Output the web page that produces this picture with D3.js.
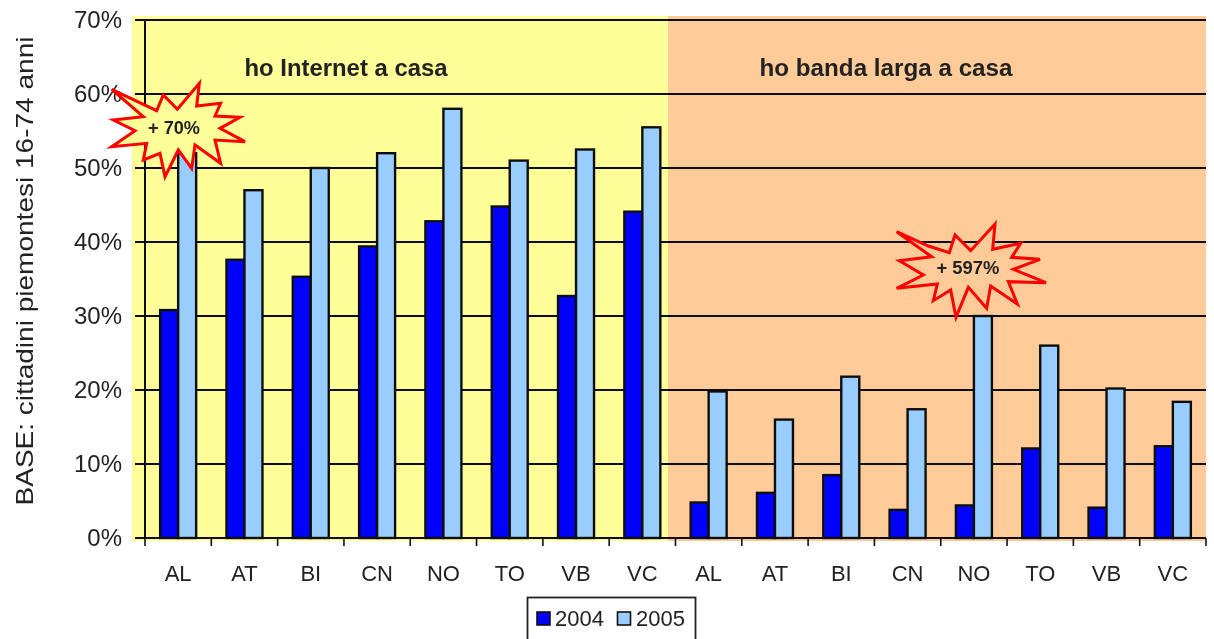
<!DOCTYPE html>
<html><head><meta charset="utf-8">
<script src="https://cdn.jsdelivr.net/npm/d3@7"></script>
<style>html,body{margin:0;padding:0;background:#fff}svg{display:block}text{font-family:"Liberation Sans",Arial,sans-serif;fill:#222}</style>
</head><body><svg id="c" width="1214" height="639"></svg>
<script>
const categories=["AL","AT","BI","CN","NO","TO","VB","VC","AL","AT","BI","CN","NO","TO","VB","VC"];
const values2004=[30.8,37.6,35.3,39.4,42.8,44.8,32.7,44.1,4.8,6.1,8.5,3.8,4.4,12.1,4.1,12.4];
const values2005=[52,47,50,52,58,51,52.5,55.5,19.8,16,21.8,17.4,30,26,20.2,18.4];
const yTicks=[0,10,20,30,40,50,60,70];
const seriesNames=["2004","2005"];
const seriesColors=["#0000ff","#99ccff"];
const panelTitles=["ho Internet a casa","ho banda larga a casa"];
const burstA=[[35,268],[170,332],[190,285],[232,328],[298,250],[290,318],[362,310],[345,348],[420,352],[360,385],[435,425],[345,420],[362,490],[285,435],[275,505],[235,450],[195,530],[180,460],[130,480],[140,430],[35,440],[105,392],[40,360],[130,350]];
const burstB=[[110,95],[205,138],[268,158],[285,105],[332,152],[405,72],[398,148],[482,130],[455,172],[540,178],[460,208],[558,248],[445,245],[472,312],[392,258],[380,325],[325,262],[288,352],[272,270],[220,302],[232,252],[110,265],[190,225],[118,182],[215,170]];

const svg=d3.select("#c");
const defs=svg.append("defs");
defs.append("filter").attr("id","soft").append("feGaussianBlur").attr("stdDeviation",0.45);
const root=svg.append("g").attr("filter","url(#soft)");
const L=145,R=1206,T=20,B=538;
const x=d3.scaleBand().domain(d3.range(categories.length)).range([L,R]).padding(0);
const y=d3.scaleLinear().domain([0,70]).range([B,T]);
const barW=18;
const ink="#111";

root.append("rect").attr("x",0).attr("y",0).attr("width",1214).attr("height",639).attr("fill","#fff");
root.append("rect").attr("x",132).attr("y",16).attr("width",536).attr("height",525).attr("fill","#ffff99");
root.append("rect").attr("x",668).attr("y",16).attr("width",538).attr("height",525).attr("fill","#ffcc99");

root.selectAll(".grid").data(yTicks.slice(1)).join("line")
  .attr("x1",135).attr("x2",R).attr("y1",d=>y(d)).attr("y2",d=>y(d))
  .attr("stroke",ink).attr("stroke-width",2);

[values2004,values2005].forEach((vals,s)=>{
  root.selectAll(".b"+s).data(vals).join("rect")
    .attr("x",(d,i)=>x(i)+x.bandwidth()/2+(s===0?-barW:0))
    .attr("y",d=>y(d)).attr("width",barW).attr("height",d=>B-y(d))
    .attr("fill",seriesColors[s]).attr("stroke",ink).attr("stroke-width",2.4);
});

root.append("line").attr("x1",L).attr("x2",L).attr("y1",T).attr("y2",B).attr("stroke",ink).attr("stroke-width",2);
root.append("line").attr("x1",L).attr("x2",R).attr("y1",B).attr("y2",B).attr("stroke",ink).attr("stroke-width",2);
root.selectAll(".ty").data(yTicks).join("line").attr("x1",135).attr("x2",L).attr("y1",d=>y(d)).attr("y2",d=>y(d)).attr("stroke",ink).attr("stroke-width",2);
root.selectAll(".tx").data(d3.range(categories.length+1)).join("line")
  .attr("x1",d=>L+d*x.step()).attr("x2",d=>L+d*x.step()).attr("y1",B).attr("y2",B+8).attr("stroke",ink).attr("stroke-width",1.6);

root.selectAll(".yl").data(yTicks).join("text").attr("x",122).attr("y",d=>y(d)+8)
  .attr("text-anchor","end").attr("font-size",24).text(d=>d+"%");
root.selectAll(".xl").data(categories).join("text").attr("x",(d,i)=>x(i)+x.bandwidth()/2).attr("y",581)
  .attr("text-anchor","middle").attr("font-size",22).text(d=>d);
root.append("text").attr("transform","translate(33,271) rotate(-90)").attr("text-anchor","middle").attr("font-size",24).attr("textLength",469).attr("lengthAdjust","spacingAndGlyphs").text("BASE: cittadini piemontesi 16-74 anni");

[[346,panelTitles[0]],[886,panelTitles[1]]].forEach(([px,t])=>{
  root.append("text").attr("x",px).attr("y",76).attr("text-anchor","middle").attr("font-size",23).attr("font-weight","bold").attr("fill","#111").attr("textLength",px<500?203:253).attr("lengthAdjust","spacingAndGlyphs").text(t);
});

function burst(pts,ox,oy,fill,label,lx,ly,len){
  root.append("polygon").attr("points",pts.map(p=>[ox+p[0]/3,oy+p[1]/3].join(",")).join(" "))
    .attr("fill",fill).attr("stroke","#ff0000").attr("stroke-width",3).attr("stroke-linejoin","miter");
  root.append("text").attr("x",lx).attr("y",ly).attr("text-anchor","middle").attr("font-size",18).attr("font-weight","bold").attr("textLength",len).attr("lengthAdjust","spacingAndGlyphs").text(label);
}
burst(burstA,100,0,"#ffff99","+ 70%",174,134,52);
burst(burstB,860,200,"#ffcc99","+ 597%",968,274,63);

root.append("rect").attr("x",527.5).attr("y",597.5).attr("width",168).attr("height",50).attr("fill","#fff").attr("stroke","#222").attr("stroke-width",1.8);
[[537,555],[617.5,636]].forEach(([sx,tx],i)=>{
  root.append("rect").attr("x",sx).attr("y",612).attr("width",13).attr("height",13).attr("fill",seriesColors[i]).attr("stroke",ink).attr("stroke-width",1.6);
  root.append("text").attr("x",tx).attr("y",626).attr("font-size",22).text(seriesNames[i]);
});
</script></body></html>
